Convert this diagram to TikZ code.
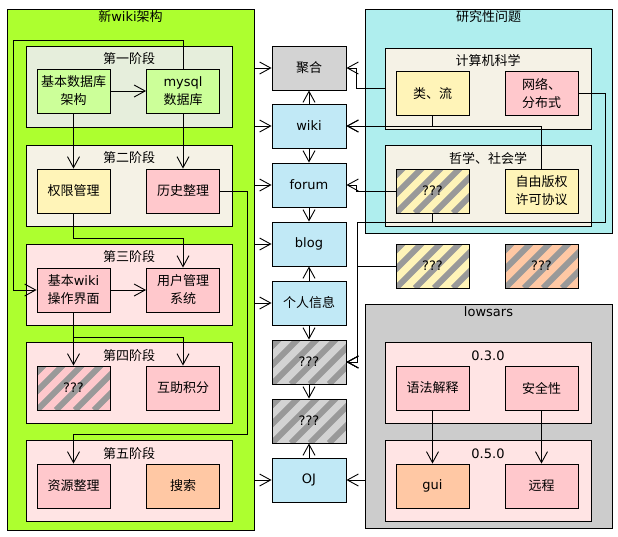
\documentclass[tikz,border=0pt]{standalone}
\usepackage{fontspec}
\setmainfont{DejaVu Sans}
\newfontfamily\cjk{Noto Sans CJK SC}
\usetikzlibrary{arrows.meta}
\newcommand{\zh}[1]{{\cjk #1}}
\definecolor{greenbg}{HTML}{ADFF2F}
\definecolor{stagegreen}{HTML}{E6EEDC}
\definecolor{stagebeige}{HTML}{F5F2E6}
\definecolor{stagepink}{HTML}{FFE4E4}
\definecolor{itemgreen}{HTML}{CCFF99}
\definecolor{itemyellow}{HTML}{FFF4B8}
\definecolor{itempink}{HTML}{FFC8CC}
\definecolor{itemorange}{HTML}{FFC8A4}
\definecolor{itemblue}{HTML}{C1E9F6}
\definecolor{itemgray}{HTML}{D3D3D3}
\definecolor{grpcyan}{HTML}{AFEEEE}
\definecolor{grpgray}{HTML}{CCCCCC}
\definecolor{hatchgray}{HTML}{999999}
\tikzset{
  grp/.style={draw,fill=#1,minimum width=247pt,inner sep=0pt},
  stage/.style={draw,fill=#1,minimum width=206pt,minimum height=81pt,inner sep=0pt},
  item/.style={draw,fill=#1,minimum width=73pt,minimum height=44pt,inner sep=0pt,align=center},
  ttl/.style={anchor=center,inner sep=0pt,yshift=#1},
  hatch/.style={fill=#1,path picture={
    \foreach \k in {-57,-38,...,76}
      \draw[hatchgray,line width=6pt] ([xshift=\k pt]path picture bounding box.south west) -- ++(50pt,50pt);}},
  arr/.style={-{Straight Barb[length=11pt,width=12pt]}}
}
\begin{document}
\begin{tikzpicture}[x=1pt,y=-1pt,line width=0.9pt,font=\fontsize{13}{18}\selectfont]
\useasboundingbox (0,0) rectangle (618,536);
% left group
\node[grp=greenbg,minimum height=521pt,label={[ttl=-8pt]north:{\zh{新}wiki\zh{架构}}}] (xin) at (130.5,269.5) {};
\node[stage=stagegreen,label={[ttl=-13pt]north:{\zh{第一阶段}}}] (s1) at (129,86.5) {};
\node[stage=stagebeige,label={[ttl=-13pt]north:{\zh{第二阶段}}}] (s2) at (129,185.5) {};
\node[stage=stagepink,label={[ttl=-13pt]north:{\zh{第三阶段}}}] (s3) at (129,284.5) {};
\node[stage=stagepink,label={[ttl=-13pt]north:{\zh{第四阶段}}}] (s4) at (129,383) {};
\node[stage=stagepink,label={[ttl=-13pt]north:{\zh{第五阶段}}}] (s5) at (129,481) {};
\node[item=itemgreen] (jcsj) at (73.5,91) {\zh{基本数据库}\\\zh{架构}};
\node[item=itemgreen] (mysql) at (183,91) {mysql\\\zh{数据库}};
\node[item=itemyellow] (qxgl) at (73.5,191) {\zh{权限管理}};
\node[item=itempink] (lszl) at (183,191) {\zh{历史整理}};
\node[item=itempink] (jbwiki) at (73.5,290) {\zh{基本}wiki\\\zh{操作界面}};
\node[item=itempink] (yhgl) at (183,290) {\zh{用户管理}\\\zh{系统}};
\node[item,hatch=itempink] (q4) at (73.5,388) {???};
\node[item=itempink] (hzjf) at (183,388) {\zh{互助积分}};
\node[item=itempink] (zyzl) at (73.5,486) {\zh{资源整理}};
\node[item=itemorange] (ss) at (183,486) {\zh{搜索}};
% middle column
\node[item=itemgray,minimum width=74pt] (jh) at (309,68) {\zh{聚合}};
\node[item=itemblue,minimum width=74pt] (wiki) at (309,126) {wiki};
\node[item=itemblue,minimum width=74pt] (forum) at (309,185) {forum};
\node[item=itemblue,minimum width=74pt] (blog) at (309,244) {blog};
\node[item=itemblue,minimum width=74pt] (grxx) at (309,303) {\zh{个人信息}};
\node[item,hatch=itemgray,minimum width=74pt] (qa) at (309,362) {???};
\node[item,hatch=itemgray,minimum width=74pt] (qb) at (309,421) {???};
\node[item=itemblue,minimum width=74pt] (oj) at (309,480) {OJ};
% right groups
\node[grp=grpcyan,minimum height=224pt,label={[ttl=-8pt]north:{\zh{研究性问题}}}] (yjx) at (488.5,121) {};
\node[stage=stagebeige,label={[ttl=-13pt]north:{\zh{计算机科学}}}] (jsj) at (488,88.5) {};
\node[stage=stagebeige,label={[ttl=-13pt]north:{\zh{哲学、社会学}}}] (zx) at (488,186) {};
\node[item=itemyellow] (lei) at (432.5,93.5) {\zh{类、流}};
\node[item=itempink] (wl) at (541.5,93.5) {\zh{网络、}\\\zh{分布式}};
\node[item,hatch=itemyellow] (qz) at (432.5,191) {???};
\node[item=itemyellow] (zyb) at (541.5,191) {\zh{自由版权}\\\zh{许可协议}};
\node[item,hatch=itemyellow] (qy) at (432.5,266) {???};
\node[item,hatch=itemorange] (qo) at (541.5,266) {???};
\node[grp=grpgray,minimum height=224pt,label={[ttl=-8pt]north:{lowsars}}] (low) at (488.5,416) {};
\node[stage=stagepink,label={[ttl=-14pt]north:{0.3.0}}] (v030) at (488,382.5) {};
\node[stage=stagepink,label={[ttl=-14pt]north:{0.5.0}}] (v050) at (488,480.5) {};
\node[item=itempink] (yf) at (432.5,388) {\zh{语法解释}};
\node[item=itempink] (aq) at (541.5,388) {\zh{安全性}};
\node[item=itemorange] (gui) at (432.5,486) {gui};
\node[item=itempink] (yc) at (541.5,486) {\zh{远程}};
% connectors, left
\draw[arr] (jcsj) -- (mysql);
\draw[arr] (jcsj) -- (qxgl);
\draw[arr] (mysql) -- (lszl);
\draw[arr] (mysql.north) -- ++(0,-28) -- ++(-170,0) |- (jbwiki.west);
\draw[arr] (qxgl.south) -- ++(0,25) -| (yhgl.north);
\draw[arr] (jbwiki) -- (yhgl);
\draw[arr] (jbwiki) -- (q4);
\draw[arr] (jbwiki.south) -- ++(0,25) -| (hzjf.north);
\draw[arr] (lszl.east) -- ++(27,0) -- ++(0,243) -| (zyzl.north);
% connectors, middle
\foreach \n in {jh,wiki,forum,blog,grxx,oj}
  \draw[arr] (xin.east |- \n.west) -- (\n.west);
\draw[arr] (wiki) -- (jh);
\draw[arr] (wiki) -- (forum);
\draw[arr] (forum) -- (blog);
\draw[arr] (grxx) -- (blog);
\draw[arr] (grxx) -- (qa);
\draw[arr] (qa) -- (qb);
\draw[arr] (oj) -- (qb);
% connectors, right
\coordinate (bus) at (357,222);
\draw[arr] (jsj.west) -- ++(-28,0) |- (jh.east);
\draw[arr] (lei.south) |- (wiki.east);
\draw[arr] (zyb.north) |- (wiki.east);
\draw[arr] (qz.west) -- ++(-39,0) |- (forum.east);
\draw[arr] (wl.east) -- ++(27,0) |- (bus) |- (qa.east);
\draw[arr] (qz.south) |- (bus) |- (qa.east);
\draw[arr] (qy.west) -- (qy.west -| bus) |- (qa.east);
\draw[arr] (low.west |- oj.east) -- (oj.east);
\draw[arr] (yf) -- (gui);
\draw[arr] (aq) -- (yc);
\end{tikzpicture}
\end{document}
